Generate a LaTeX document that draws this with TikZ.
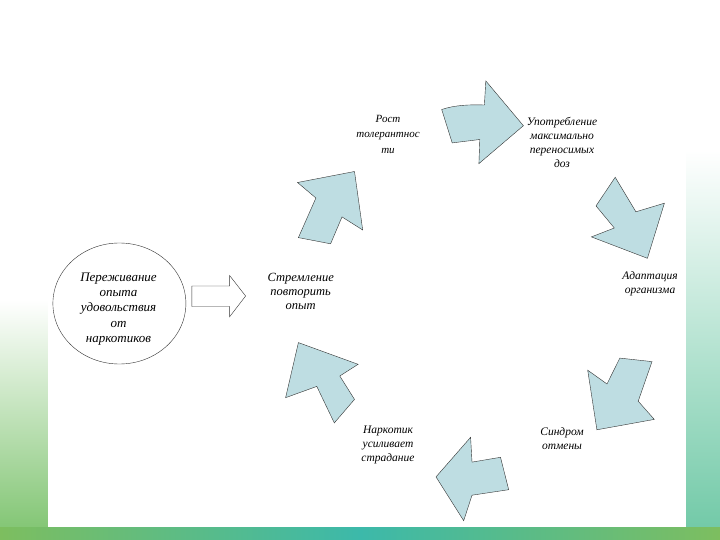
\documentclass[tikz,border=0pt]{standalone}
\usepackage{fontspec}
\setmainfont{Liberation Serif}
\usetikzlibrary{shapes.geometric}
\definecolor{arrowfill}{RGB}{190,221,226}
\definecolor{bgleft}{RGB}{125,195,110}
\definecolor{bgright}{RGB}{110,200,165}
\definecolor{bggreen}{RGB}{125,190,95}
\definecolor{bgteal}{RGB}{60,185,170}
\begin{document}
\begin{tikzpicture}[x=1pt,y=-1pt,
  blk/.style={fill=arrowfill, draw=black!80, line width=0.4pt, line join=miter},
  lbl/.style={font=\fontsize{11.5}{14}\selectfont\itshape, align=center, inner sep=0pt}]
\useasboundingbox (0,0) rectangle (720,540);
% background
\fill[white] (0,0) rectangle (720,540);
\shade[top color=white, bottom color=bgleft] (0,300) rectangle (48,540);
\shade[top color=white, bottom color=bgright] (686,150) rectangle (720,540);
\shade[left color=bggreen, right color=bgteal] (0,527) rectangle (360,540);
\shade[left color=bgteal, right color=bggreen] (360,527) rectangle (720,540);
\fill[white] (48,0) rectangle (686,527);
% cycle arrows
\path[blk] (441.7,109.5) .. controls (455,105) and (470,104.5) .. (484.4,105) -- (485.8,80.9) -- (523.4,125.7) -- (478.9,163.6) -- (479.8,139.5) -- (452.2,142.9) -- cycle;
\path[blk] (615.2,177.3) -- (635.9,211.8) -- (664.4,203.2) -- (647.4,258.3) -- (591.4,236.9) -- (614.3,228) -- (596,205.9) -- cycle;
\path[blk] (619.8,358.1) -- (652,361.6) -- (638.2,401.2) -- (654.3,419.4) -- (596.9,429.8) -- (587.7,370.2) -- (607,384) -- cycle;
\path[blk] (500.5,457.3) -- (508.7,489.7) -- (472,495.2) -- (463.7,520.7) -- (436,476.9) -- (470.6,437.3) -- (472,462.1) -- cycle;
\path[blk] (298.4,342.6) -- (358.1,364.3) -- (339.8,376) -- (354.5,399.4) -- (334.3,422.9) -- (316.8,386.4) -- (285.6,397.7) -- cycle;
\path[blk] (298.4,237.6) -- (330.6,243.8) -- (342,216.9) -- (362.7,230) -- (354.5,171.5) -- (297.5,182.5) -- (315.9,198) -- cycle;
% block arrow from circle
\path[fill=white, draw=black!80, line width=0.4pt] (191.9,286) -- (229.6,286) -- (229.6,275.5) -- (245.6,296) -- (229.6,316.8) -- (229.6,306.5) -- (191.9,306.5) -- cycle;
% circle
\node[draw=black!80, line width=0.4pt, ellipse, minimum width=133pt, minimum height=121pt, inner sep=0pt] (circ) at (119.4,303.5) {};
\node[lbl, font=\fontsize{13}{15.3}\selectfont\itshape] (pere) at (118.5,309) {Переживание\\опыта\\удовольствия\\от\\наркотиков};
% labels
\node[lbl, font=\fontsize{11}{15.5}\selectfont\itshape] (rost) at (388,134) {Рост\\толерантнос\\ти};
\node[lbl] (upotr) at (562,142) {Употребление\\максимально\\переносимых\\доз};
\node[lbl] (adapt) at (650,284) {Адаптация\\организма};
\node[lbl] (sindr) at (562,439) {Синдром\\отмены};
\node[lbl] (nark) at (388,445) {Наркотик\\усиливает\\страдание};
\node[lbl, font=\fontsize{12.5}{14}\selectfont\itshape] (strem) at (300.7,291) {Стремление\\повторить\\опыт};
\end{tikzpicture}
\end{document}
